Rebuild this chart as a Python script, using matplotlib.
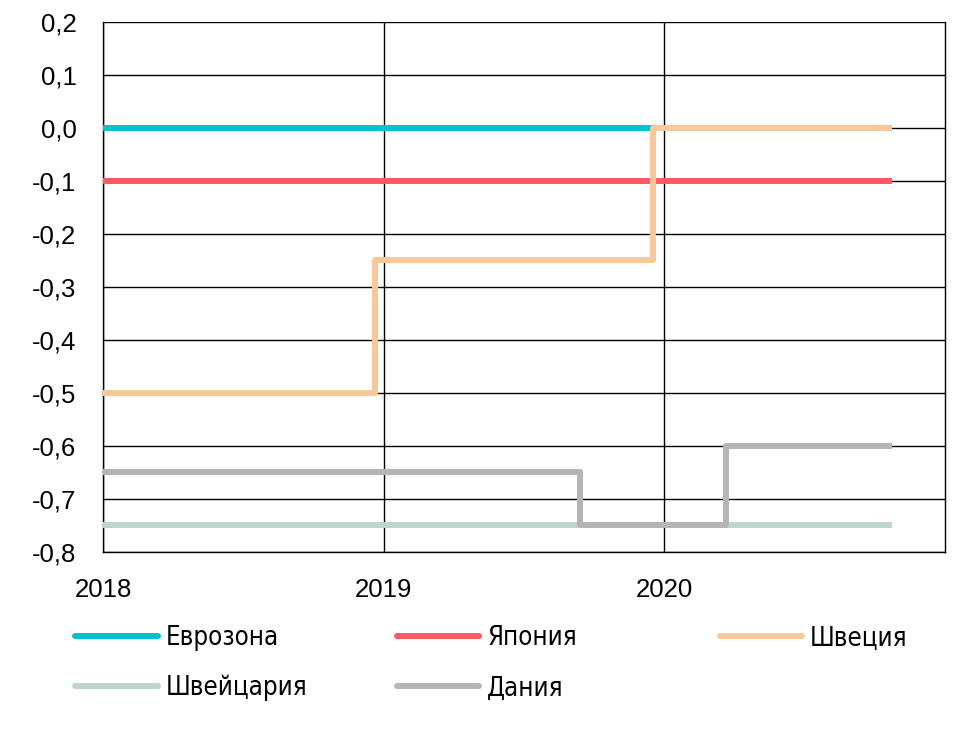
import matplotlib
matplotlib.use('Agg')
from matplotlib import pyplot as plt
from matplotlib.lines import Line2D

# policy rates, %, step series (x = fractional year)
names = ['Еврозона', 'Япония', 'Швеция', 'Швейцария', 'Дания']
colors = ['#00c1d0', '#ff5a64', '#f9c898', '#bfd4cb', '#b5b5b5']

eurozone_x = [2018.0, 2020.81]
eurozone_y = [0.0, 0.0]
japan_x = [2018.0, 2020.81]
japan_y = [-0.1, -0.1]
sweden_x = [2018.0, 2018.97, 2019.96, 2020.81]
sweden_y = [-0.5, -0.25, 0.0, 0.0]
swiss_x = [2018.0, 2020.81]
swiss_y = [-0.75, -0.75]
denmark_x = [2018.0, 2019.70, 2020.22, 2020.81]
denmark_y = [-0.65, -0.75, -0.6, -0.6]

year_ticks = [2018, 2019, 2020]
y_ticks = [0.2, 0.1, 0.0, -0.1, -0.2, -0.3, -0.4, -0.5, -0.6, -0.7, -0.8]

plt.rcParams['font.family'] = ['Liberation Sans', 'DejaVu Sans']

fig = plt.figure(figsize=(9.69, 7.31), dpi=100)
ax = fig.add_axes([0.1063, 0.245, 0.8689, 0.725])

series = [(eurozone_x, eurozone_y), (japan_x, japan_y), (swiss_x, swiss_y),
          (denmark_x, denmark_y), (sweden_x, sweden_y)]
order = [0, 1, 3, 4, 2]
for (xs, ys), i in zip(series, order):
    ax.plot(xs, ys, drawstyle='steps-post', color=colors[i], lw=4.3,
            solid_capstyle='butt', zorder=3)

ax.set_xlim(2018, 2021)
ax.set_ylim(-0.8, 0.2)
ax.set_yticks(y_ticks)
ax.set_yticklabels([('%.1f' % v).replace('.', ',') for v in y_ticks], fontsize=18.5)
ax.set_xticks(year_ticks)
ax.set_xticklabels([str(y) for y in year_ticks], fontsize=18.5)
ax.tick_params(length=0)
ax.tick_params(axis='y', pad=19)
ax.tick_params(axis='x', pad=19)
ax.grid(True, color='black', lw=1)
for s in ax.spines.values():
    s.set_color('black')
    s.set_linewidth(1)
ax.spines['top'].set_visible(False)

# legend: three columns placed by hand
handles = [Line2D([], [], color=c, lw=4.3, solid_capstyle='round') for c in colors]
cols = [([0, 3], 0.054), ([1, 4], 0.386), ([2], 0.719)]
for idx, x0 in cols:
    fig.legend([handles[i] for i in idx], [names[i] for i in idx],
               loc='upper left', bbox_to_anchor=(x0, 0.176), frameon=False,
               handlelength=3.2, handletextpad=0.3, labelspacing=0.9,
               prop={'family': 'DejaVu Sans', 'stretch': 'condensed', 'size': 18.5})

fig.savefig('out.png', dpi=100)
